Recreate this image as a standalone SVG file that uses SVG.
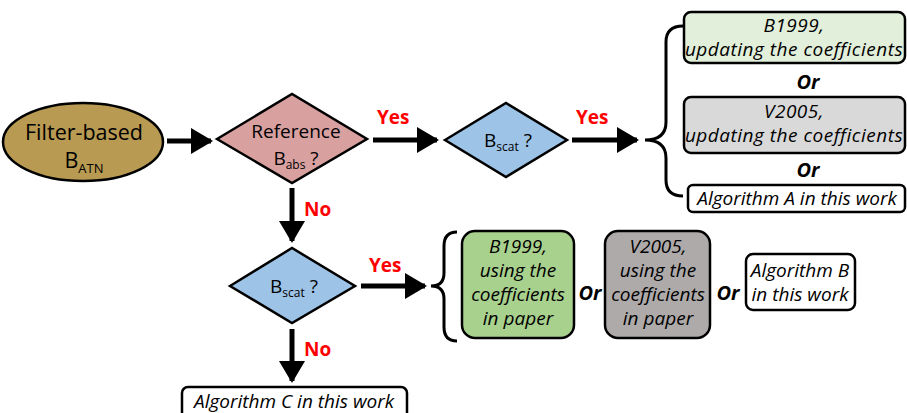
<svg xmlns="http://www.w3.org/2000/svg" width="907" height="413" viewBox="0 0 907 413">
<defs>
<marker id="ah" markerUnits="userSpaceOnUse" markerWidth="22" markerHeight="26" refX="20" refY="13" orient="auto">
<path d="M0,0 L22,13 L0,26 Z" fill="#000"/>
</marker>
<style>
.t{font-family:"Open Sans","Noto Sans",sans-serif;fill:#000}
.it{font-family:"Open Sans","Noto Sans",sans-serif;font-style:italic;font-size:19px;fill:#000;text-anchor:middle}
.wide{letter-spacing:0.5px}
.lab{font-family:"Open Sans","Noto Sans",sans-serif;font-weight:bold;font-size:19px;fill:#ff0000}
.or{font-family:"Open Sans","Noto Sans",sans-serif;font-weight:bold;font-style:italic;font-size:20px;fill:#000;text-anchor:middle}
.box{stroke:#000;stroke-width:2.5}
.arr{stroke:#000;stroke-width:5;fill:none;marker-end:url(#ah)}
.br{stroke:#000;stroke-width:3;fill:none}
</style>
</defs>
<g id="start">
<ellipse cx="83" cy="142" rx="80" ry="39" fill="#b89a52" class="box"/>
<text class="t" x="84" y="140" font-size="21.5" text-anchor="middle">Filter-based</text>
<text class="t" x="84" y="168" font-size="21.5" text-anchor="middle">B<tspan font-size="13" dy="5">ATN</tspan></text>
</g>
<g id="dec1">
<polygon points="217,139 292,94 367,139 292,183" fill="#d9a0a0" class="box"/>
<text class="t" x="296" y="138" font-size="19" text-anchor="middle">Reference</text>
<text class="t" x="296" y="165" font-size="19" text-anchor="middle">B<tspan font-size="12" dy="4">abs</tspan><tspan dy="-4"> ?</tspan></text>
</g>
<g id="dec2">
<polygon points="445,140 506,103 567,140 506,177" fill="#9dc3e6" class="box"/>
<text class="t" x="508" y="147" font-size="19" text-anchor="middle">B<tspan font-size="12" dy="4">scat</tspan><tspan dy="-4"> ?</tspan></text>
</g>
<g id="dec3">
<polygon points="230,286 292,248 355,286 292,323" fill="#9dc3e6" class="box"/>
<text class="t" x="294" y="293" font-size="19" text-anchor="middle">B<tspan font-size="12" dy="4">scat</tspan><tspan dy="-4"> ?</tspan></text>
</g>
<g id="b1999u">
<rect x="684" y="12" width="221" height="51" rx="7" fill="#e2efda" class="box"/>
<text class="it wide" x="794" y="32">B1999,</text>
<text class="it wide" x="794" y="56">updating the coefficients</text>
</g>
<g id="v2005u">
<rect x="684" y="97" width="221" height="56" rx="7" fill="#d9d9d9" class="box"/>
<text class="it wide" x="794" y="118">V2005,</text>
<text class="it wide" x="794" y="142">updating the coefficients</text>
</g>
<g id="algA">
<rect x="688" y="185" width="217" height="27" rx="5" fill="#fff" class="box"/>
<text class="it" x="797" y="205">Algorithm A in this work</text>
</g>
<g id="b1999p">
<rect x="462" y="231" width="112" height="107" rx="13" fill="#a9d18e" class="box"/>
<text class="it" x="518" y="253">B1999,</text>
<text class="it" x="518" y="277">using the</text>
<text class="it" x="518" y="301">coefficients</text>
<text class="it" x="518" y="325">in paper</text>
</g>
<g id="v2005p">
<rect x="605" y="231" width="105" height="107" rx="13" fill="#aeaaaa" class="box"/>
<text class="it" x="658" y="253">V2005,</text>
<text class="it" x="658" y="277">using the</text>
<text class="it" x="658" y="301">coefficients</text>
<text class="it" x="658" y="325">in paper</text>
</g>
<g id="algB">
<rect x="746" y="254" width="109" height="56" rx="7" fill="#fff" class="box"/>
<text class="it" x="800" y="277">Algorithm B</text>
<text class="it" x="800" y="301">in this work</text>
</g>
<g id="algC">
<rect x="182" y="387" width="225" height="34" rx="6" fill="#fff" class="box"/>
<text class="it" x="294" y="408">Algorithm C in this work</text>
</g>
<g id="ors">
<text class="or" x="808" y="89">Or</text>
<text class="or" x="808" y="177">Or</text>
<text class="or" x="590" y="300">Or</text>
<text class="or" x="728" y="300">Or</text>
</g>
<g id="connectors">
<line class="arr" x1="167" y1="141" x2="211" y2="141"/>
<line class="arr" x1="373" y1="140" x2="437" y2="140"/>
<line class="arr" x1="572" y1="140" x2="637" y2="140"/>
<line class="arr" x1="292" y1="188" x2="292" y2="241"/>
<line class="arr" x1="361" y1="286" x2="425" y2="286"/>
<line class="arr" x1="292" y1="329" x2="292" y2="381"/>
<path class="br" d="M683,26 Q666,26 666,42 L666,122 Q666,140 645,140 Q666,140 666,158 L666,180 Q666,196 683,196"/>
<path class="br" d="M457,232 Q444,232 444,246 L444,273 Q444,286 431,286 Q444,286 444,299 L444,327 Q444,341 457,341"/>
<text class="lab" x="377" y="124">Yes</text>
<text class="lab" x="576" y="124">Yes</text>
<text class="lab" x="304" y="216">No</text>
<text class="lab" x="369" y="272">Yes</text>
<text class="lab" x="304" y="356">No</text>
</g>
</svg>
